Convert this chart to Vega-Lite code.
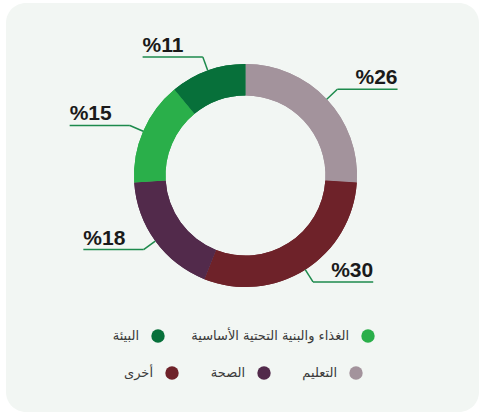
{
  "$schema": "https://vega.github.io/schema/vega-lite/v6.json",
  "width": 473,
  "height": 409,
  "autosize": "none",
  "padding": {"left": 6, "top": 3, "right": 0, "bottom": 0},
  "background": "#ffffff",
  "view": {"fill": "#f2f6f3", "stroke": null, "cornerRadius": 20},
  "data": {
    "values": [
      {"category": "التعليم", "value": 26},
      {"category": "أخرى", "value": 30},
      {"category": "الصحة", "value": 18},
      {"category": "الغذاء والبنية التحتية الأساسية", "value": 15},
      {"category": "البيئة", "value": 11}
    ]
  },
  "transform": [
    {"window": [{"op": "row_number", "as": "idx"}, {"op": "sum", "field": "value", "as": "cum"}]},
    {"joinaggregate": [{"op": "sum", "field": "value", "as": "total"}]},
    {"calculate": "2 * PI * (datum.cum - datum.value / 2) / datum.total", "as": "ang"},
    {"calculate": "sin(datum.ang)", "as": "sx"},
    {"calculate": "cos(datum.ang)", "as": "sy"},
    {"calculate": "1.13 * sin(datum.ang)", "as": "ex"},
    {"calculate": "1.13 * cos(datum.ang)", "as": "ey"},
    {"calculate": "sin(datum.ang) >= 0 ? 1 : -1", "as": "side"},
    {"calculate": "datum.ex + datum.side * 0.54", "as": "hx"},
    {"calculate": "'%' + datum.value", "as": "label"}
  ],
  "layer": [
    {
      "mark": {"type": "arc", "radius": 111.5, "radius2": 80, "stroke": null},
      "encoding": {
        "x": {"datum": 0, "type": "quantitative", "scale": {"domain": [-2.148, 2.0942], "nice": false, "zero": false}, "axis": null},
        "y": {"datum": 0, "type": "quantitative", "scale": {"domain": [-2.1211, 1.5471], "nice": false, "zero": false}, "axis": null},
        "theta": {"field": "value", "type": "quantitative", "stack": true},
        "order": {"field": "idx", "type": "quantitative"},
        "color": {
          "field": "category", "type": "nominal",
          "scale": {
            "domain": ["التعليم", "أخرى", "الصحة", "الغذاء والبنية التحتية الأساسية", "البيئة"],
            "range": ["#a3939c", "#6e2229", "#522a4b", "#2aaf4a", "#07703a"]
          },
          "legend": {
            "values": ["أخرى", "الصحة", "التعليم"],
            "orient": "none", "legendX": 159, "legendY": 363,
            "direction": "horizontal", "title": null,
            "symbolType": "circle", "symbolSize": 180, "symbolStrokeWidth": 0, "symbolOpacity": 1,
            "labelAlign": "right", "labelOffset": -26, "labelLimit": 300,
            "labelFont": "DejaVu Sans", "labelFontSize": 13, "labelColor": "#3a3a3a",
            "columnPadding": 31
          }
        }
      }
    },
    {
      "mark": {"type": "arc", "radius": 111.5, "radius2": 80, "stroke": null},
      "encoding": {
        "x": {"datum": 0, "type": "quantitative"},
        "y": {"datum": 0, "type": "quantitative"},
        "theta": {"field": "value", "type": "quantitative", "stack": true},
        "order": {"field": "idx", "type": "quantitative"},
        "color": {
          "field": "category", "type": "nominal",
          "scale": {
            "domain": ["التعليم", "أخرى", "الصحة", "الغذاء والبنية التحتية الأساسية", "البيئة"],
            "range": ["#a3939c", "#6e2229", "#522a4b", "#2aaf4a", "#07703a"]
          },
          "legend": {
            "values": ["البيئة", "الغذاء والبنية التحتية الأساسية"],
            "orient": "none", "legendX": 145, "legendY": 326,
            "direction": "horizontal", "title": null,
            "symbolType": "circle", "symbolSize": 180, "symbolStrokeWidth": 0, "symbolOpacity": 1,
            "labelAlign": "right", "labelOffset": -26, "labelLimit": 300,
            "labelFont": "DejaVu Sans", "labelFontSize": 13, "labelColor": "#3a3a3a",
            "columnPadding": 26
          }
        }
      }
    },
    {
      "mark": {"type": "rule", "color": "#1d8a4c", "strokeWidth": 1.5},
      "encoding": {
        "x": {"field": "sx", "type": "quantitative"},
        "y": {"field": "sy", "type": "quantitative"},
        "x2": {"field": "ex"},
        "y2": {"field": "ey"}
      }
    },
    {
      "mark": {"type": "rule", "color": "#1d8a4c", "strokeWidth": 1.5},
      "encoding": {
        "x": {"field": "ex", "type": "quantitative"},
        "y": {"field": "ey", "type": "quantitative"},
        "x2": {"field": "hx"},
        "y2": {"field": "ey"}
      }
    },
    {
      "mark": {
        "type": "text", "font": "Liberation Sans", "fontWeight": "bold", "fontSize": 21,
        "color": "#1a1a1a", "baseline": "alphabetic", "dy": -5,
        "align": {"expr": "datum.side > 0 ? 'right' : 'left'"}
      },
      "encoding": {
        "x": {"field": "hx", "type": "quantitative"},
        "y": {"field": "ey", "type": "quantitative"},
        "text": {"field": "label"}
      }
    }
  ],
  "resolve": {"scale": {"color": "independent"}}
}
